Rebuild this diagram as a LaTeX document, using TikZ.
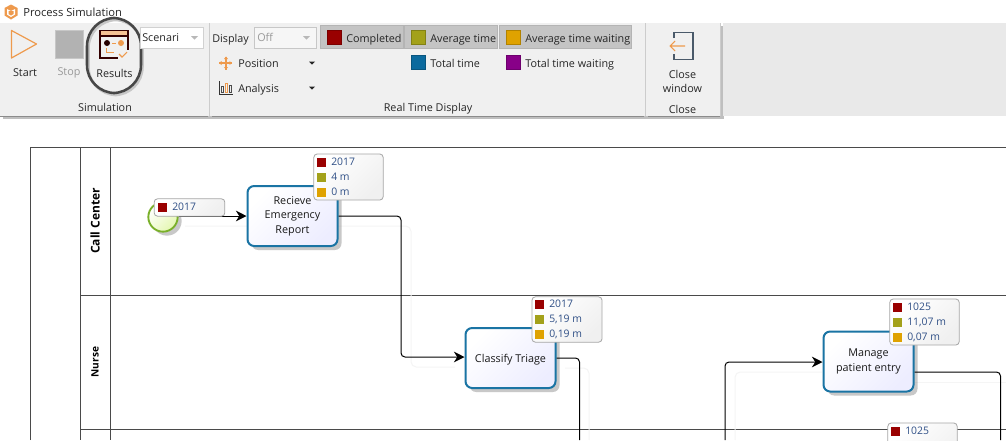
\documentclass[tikz,border=0pt]{standalone}
\usepackage{fontspec}
\setmainfont{Open Sans}
\usetikzlibrary{shadows,arrows.meta,positioning}
\definecolor{ribbon}{HTML}{F0F0F0}
\definecolor{btn}{HTML}{C4C4C4}
\definecolor{btnb}{HTML}{B4B4B4}
\definecolor{orng}{HTML}{EE9A4D}
\definecolor{cRed}{HTML}{990000}
\definecolor{cOlive}{HTML}{A3A11A}
\definecolor{cGold}{HTML}{DFA200}
\definecolor{cBlue}{HTML}{0B6A9E}
\definecolor{cPurple}{HTML}{880088}
\definecolor{taskb}{HTML}{1A74A4}
\definecolor{bluetxt}{HTML}{2F4F86}
\definecolor{lane}{HTML}{4A4A4A}
\definecolor{slate}{HTML}{4A5A6A}
\definecolor{evb}{HTML}{7AB02A}
\definecolor{evf}{HTML}{E4F7B0}
\tikzset{
  px/.style={x=0.75pt,y=-0.75pt},
  ui/.style={font=\fontsize{8.1}{10.5}\selectfont,text=black!85,inner sep=0pt,align=center},
  uil/.style={ui,anchor=west,text height=7pt,text depth=.8pt},
  uigrey/.style={ui,text=black!40},
  sq/.style={fill=#1,draw=#1!80!black,line width=.3pt},
  hbtn/.style={fill=btn,draw=btnb,line width=.75pt},
  combo/.style={fill=white,draw=black!18,line width=.75pt},
  taskbox/.style={draw=taskb,line width=1.5pt,rounded corners=5pt,align=center,
    inner sep=0pt,minimum width=67.5pt,minimum height=45pt,
    left color=white,right color=blue!7,shading angle=45,
    font=\fontsize{8.1}{11}\selectfont,text=black!90,
    execute at begin node={\rule{0pt}{8pt}},
    drop shadow={shadow xshift=3pt,shadow yshift=-3pt,opacity=.3,fill=black!70}},
  badge/.style={draw=black!35,line width=.6pt,rounded corners=2.5pt,left color=white,right color=black!6,shading angle=45},
  conn/.style={draw=black,line width=.75pt,rounded corners=3pt},
  arrowed/.style={conn,-{Stealth[length=8pt,width=8pt]}},
  faint/.style={draw=black!4,line width=.75pt,rounded corners=4pt},
  lanel/.style={draw=lane,line width=.75pt},
  btxt/.style={font=\fontsize{7.8}{10}\selectfont,text=bluetxt,anchor=west,inner sep=0pt,text height=6pt,text depth=1pt},
  lanetxt/.style={font=\bfseries\fontsize{#1}{10}\selectfont,rotate=90,inner sep=0pt,text=black},
}
\begin{document}
\begin{tikzpicture}[px]
\useasboundingbox (0,0) rectangle (1006,440);
\fill[white] (0,0) rectangle (1006,440);
% ribbon
\fill[black!25] (3,116) rectangle (724,119);
\fill[black!25] (720,26) rectangle (723,119);
\fill[ribbon] (0,23) rectangle (720,116);
\fill[ribbon!97!black] (723,23) rectangle (1006,116);
\draw[black!45,line width=.75pt] (0,116) -- (208,116) (212,116) -- (644,116) (648,116) -- (720,116);
\draw[black!20,line width=.75pt] (209,23) -- (209,116) (645.5,23) -- (645.5,116) (720,23) -- (720,116);
% title
\node[font=\fontsize{8.4}{10}\selectfont,text=black!85,inner sep=0pt,anchor=west] (title) at (23,12) {Process Simulation};
\fill[orng] (11,4.5) -- (17.5,8) -- (17.5,15.5) -- (11,19.5) -- (4.5,15.5) -- (4.5,8) -- cycle;
\fill[white] (7,9) -- (11,11) -- (15,9) -- (15,14.5) -- (11,17) -- (7,14.5) -- cycle;
\fill[orng] (8.5,11) -- (13.5,11) -- (13.5,14) -- (11,15.5) -- (8.5,14) -- cycle;
% start / stop
\draw[orng,line width=.9pt,line join=round] (11.5,30.5) -- (36.5,44) -- (11.5,58) -- cycle;
\node[ui] (start) at (25,73) {Start};
\fill[black!30] (55,30) rectangle (83,58);
\draw[black!22] (55,30) rectangle (83,58);
\node[uigrey] (stop) at (69,73) {Stop};
% results icon
\fill[orng!60] (100,30.5) rectangle (128,36);
\draw[black!80!red,line width=.8pt] (100,30.5) -- (128,30.5) -- (128,36) -- (100,36) -- cycle;
\draw[black!80!red,line width=.8pt] (100,36) -- (100,58) -- (118,58) (128,36) -- (128,50);
\fill[black!85!red] (107,43) circle (3);
\fill[orng] (121,43) circle (3);
\draw[orng,line width=.7pt] (112,43) -- (116,43) (106,48) -- (106,52) -- (114,52);
\draw[orng,line width=.8pt] (119,54) -- (122,57) -- (127,52);
\node[ui] (results) at (114.5,73) {Results};
\node[ui] (simg) at (105,107) {Simulation};
\draw[black!22,line width=1.9pt,rounded corners=21pt] (88.5,20) rectangle (142.5,95);
\draw[black!72,line width=1.9pt,rounded corners=21pt] (87,18) rectangle (141,93);
% scenario combo
\draw[combo] (140,27) rectangle (203,48);
\node[uil] (scen) at (142,37) {Scenari};
\fill[black!28] (191,36) -- (198,36) -- (194.5,39.5) -- cycle;
% display
\node[uil] (display) at (212,38) {Display};
\draw[black!22,fill=ribbon!60!white,line width=.75pt] (254,27) rectangle (316,48);
\node[uil,text=black!40] (off) at (257,37) {Off};
\fill[black!28] (303,36) -- (310,36) -- (306.5,39.5) -- cycle;
% position
\draw[orng,line width=.8pt] (219,63) -- (232,63) (226,56.5) -- (226,69.5);
\fill[orng] (219,63) -- (221.5,61) -- (221.5,65) -- cycle (232,63) -- (229.5,61) -- (229.5,65) -- cycle
 (226,56.5) -- (224,59) -- (228,59) -- cycle (226,69.5) -- (224,67) -- (228,67) -- cycle;
\node[uil] (position) at (238,63) {Position};
\fill[black!85] (309,61.5) -- (315,61.5) -- (312,64.5) -- cycle;
% analysis
\draw[black!80,line width=.7pt] (219.5,81) -- (219.5,94) -- (232.5,94);
\draw[black!70,line width=.6pt] (221.5,86) rectangle (223.5,92.5);
\draw[orng,line width=.6pt] (225.5,83) rectangle (227.5,92.5);
\draw[black!70,line width=.6pt] (229.5,85) rectangle (231.5,92.5);
\node[uil] (analysis) at (238,88) {Analysis};
\fill[black!85] (309,86.5) -- (315,86.5) -- (312,89.5) -- cycle;
% real time buttons
\draw[hbtn] (320,25) rectangle (403,48.5);
\draw[hbtn] (404.5,25) rectangle (497,48.5);
\draw[hbtn] (499.5,25) rectangle (631,48.5);
\filldraw[sq=cRed] (327,30) rectangle (341.5,44);
\node[uil] (completed) at (346,38) {Completed};
\filldraw[sq=cOlive] (411,30) rectangle (425,44);
\node[uil] (avgt) at (430,38) {Average time};
\filldraw[sq=cGold] (506,30) rectangle (520,44);
\node[uil] (avgw) at (525,38) {Average time waiting};
\filldraw[sq=cBlue] (411,55) rectangle (425,69);
\node[uil] (tott) at (430,63) {Total time};
\filldraw[sq=cPurple] (506,55) rectangle (520,69);
\node[uil] (totw) at (525,63) {Total time waiting};
\node[ui] (rtd) at (428,109) {Real Time Display};
% close
\draw[slate,line width=.8pt] (674,38) -- (674,32.5) -- (693,32.5) -- (693,59.5) -- (674,59.5) -- (674,54);
\draw[orng,line width=.8pt] (670,46) -- (685,46) (675,41) -- (670,46) -- (675,51);
\node[ui] (closew) at (682.5,81.5) {Close\\[-.5pt]window};
\node[ui] (closeg) at (682.5,109) {Close};
% lanes
\draw[lanel] (30,440) -- (30,147.5) -- (1006,147.5);
\draw[lanel] (80,147.5) -- (80,440) (110.5,147.5) -- (110.5,440);
\draw[lanel] (80,295.5) -- (1006,295.5) (80,429.5) -- (1006,429.5);
\node[lanetxt=9] (l1) at (95,221) {Call Center};
\node[lanetxt=7.6] (l2) at (95,362) {Nurse};
% faint connector ghosts
\draw[faint] (185,226) -- (411,226) -- (411,300);
\draw[faint] (411,300) -- (411,367) -- (455,367);
\draw[faint] (565,368) -- (589,368) -- (589,440);
\draw[faint] (735,440) -- (735,372) -- (822,372);
\draw[faint] (915,382) -- (1006,382);
% start event
\node[circle,draw=evb,line width=1.4pt,minimum size=22pt,inner sep=0pt,
  left color=white,right color=evf,shading angle=45,
  drop shadow={shadow xshift=3pt,shadow yshift=-3pt,opacity=.3,fill=black!70}] (ev) at (163,217) {};
% tasks
\node[taskbox] (t1) at (292.5,216) {Recieve\\Emergency\\Report};
\node[taskbox] (t2) at (510.5,358) {Classify Triage};
\node[taskbox] (t3) at (868.5,361.5) {Manage\\patient entry};
% connector free ends
\coordinate (c2) at (579.5,440);
\coordinate (c3) at (725,440);
\coordinate (c4) at (1000.5,440);
% connectors
\draw[arrowed] (ev.east |- 0,216) -- (t1.west |- 0,216);
\draw[arrowed] (t1.east |- 0,216) -| (401,300) |- (t2.west |- 0,357);
\draw[conn] (t2.east |- 0,358) -| (c2);
\draw[arrowed] (c3) |- (t3.west |- 0,362);
\draw[conn] (t3.east |- 0,372) -| (c4);
% badges
\node[badge,minimum width=53pt,minimum height=13pt,inner sep=0pt] (b0) at (189.5,207.5) {};
\fill[cRed] (158,203) rectangle (167,212);
\node[btxt] (b0a) at (172,207.5) {2017};

\node[badge,minimum width=52pt,minimum height=34.5pt,inner sep=0pt] (b1) at (348.5,177) {};
\fill[cRed] (317,158) rectangle (326,167);
\fill[cOlive] (317,173) rectangle (326,182);
\fill[cGold] (317,188) rectangle (326,197);
\node[btxt] (b1a) at (331,162) {2017};
\node[btxt] (b1b) at (331,177) {4 m};
\node[btxt] (b1c) at (331,192) {0 m};

\node[badge,minimum width=52.5pt,minimum height=34pt,inner sep=0pt] (b2) at (567,319.5) {};
\fill[cRed] (535,300) rectangle (544,309);
\fill[cOlive] (535,315) rectangle (544,324);
\fill[cGold] (535,330) rectangle (544,339);
\node[btxt] (b2a) at (549,304) {2017};
\node[btxt] (b2b) at (549,319) {5,19 m};
\node[btxt] (b2c) at (549,334) {0,19 m};

\node[badge,minimum width=52pt,minimum height=34.5pt,inner sep=0pt] (b3) at (924.5,322) {};
\fill[cRed] (893,303) rectangle (902,312);
\fill[cOlive] (893,318) rectangle (902,327);
\fill[cGold] (893,333) rectangle (902,342);
\node[btxt] (b3a) at (907,307) {1025};
\node[btxt] (b3b) at (907,322) {11,07 m};
\node[btxt] (b3c) at (907,337) {0,07 m};

\begin{scope}
\clip (0,0) rectangle (1006,440);
\node[badge,minimum width=52pt,minimum height=34.5pt,inner sep=0pt] (b4) at (922.5,446) {};
\fill[cRed] (891,427) rectangle (900,436);
\node[btxt] (b4a) at (905,431) {1025};
\end{scope}
\end{tikzpicture}
\end{document}
